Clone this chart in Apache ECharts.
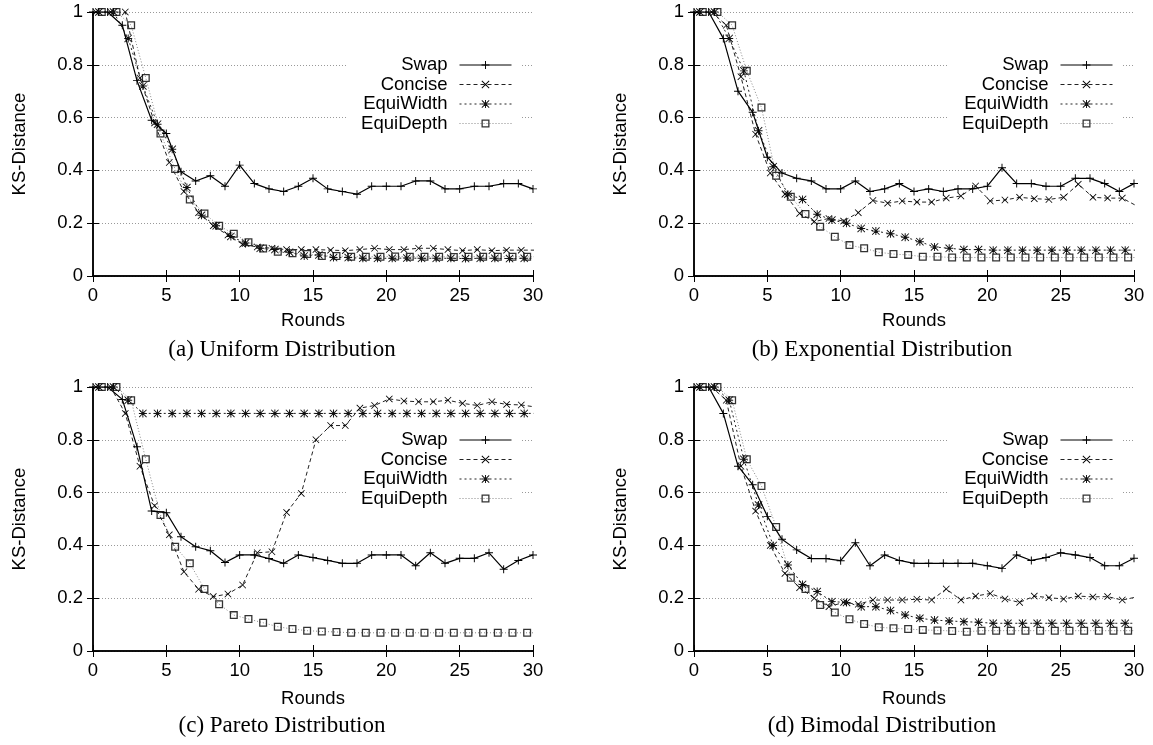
<!DOCTYPE html>
<html>
<head>
<meta charset="UTF-8">
<title>KS-Distance per round</title>
<script type="text/javascript" src="https://cdn.jsdelivr.net/npm/echarts@6.0.0/dist/echarts.min.js"></script>
<style>
html, body { margin: 0; padding: 0; background: #fff; }
#main { width: 1153px; height: 745px; }
</style>
</head>
<body>
<div id="main"></div>
<script type="text/javascript">
// rounds 0..30, each method is plotted slightly shifted to the right
var rounds = [0, 1, 2, 3, 4, 5, 6, 7, 8, 9, 10, 11, 12, 13, 14, 15, 16, 17, 18, 19, 20, 21, 22, 23, 24, 25, 26, 27, 28, 29, 30];
var seriesNames = ['Swap', 'Concise', 'EquiWidth', 'EquiDepth'];
var roundOffsets = [0, 0.2, 0.4, 0.6];
var xTicks = [0, 5, 10, 15, 20, 25, 30];
var yTicks = [0, 0.2, 0.4, 0.6, 0.8, 1];

// (a) uniform
var uniformSwap = [1, 1, 0.95, 0.74, 0.59, 0.54, 0.395, 0.36, 0.38, 0.34, 0.42, 0.35, 0.33, 0.32, 0.34, 0.37, 0.33, 0.32, 0.31, 0.34, 0.34, 0.34, 0.36, 0.36, 0.33, 0.33, 0.34, 0.34, 0.35, 0.35, 0.33];
var uniformConcise = [1, 1, 1, 0.75, 0.58, 0.43, 0.32, 0.24, 0.19, 0.155, 0.12, 0.11, 0.105, 0.1, 0.1, 0.1, 0.098, 0.096, 0.1, 0.105, 0.1, 0.1, 0.105, 0.105, 0.1, 0.096, 0.1, 0.096, 0.098, 0.098, 0.098];
var uniformEquiWidth = [1, 1, 0.9, 0.72, 0.575, 0.48, 0.335, 0.23, 0.19, 0.15, 0.125, 0.105, 0.1, 0.09, 0.076, 0.08, 0.07, 0.07, 0.067, 0.067, 0.067, 0.068, 0.067, 0.067, 0.067, 0.066, 0.067, 0.067, 0.066, 0.067, 0.067];
var uniformEquiDepth = [1, 1, 0.95, 0.75, 0.54, 0.405, 0.29, 0.237, 0.19, 0.16, 0.128, 0.104, 0.092, 0.086, 0.083, 0.076, 0.076, 0.073, 0.073, 0.073, 0.074, 0.073, 0.073, 0.073, 0.072, 0.073, 0.073, 0.073, 0.073, 0.073, 0.073];

// (b) exponential
var expSwap = [1, 1, 0.9, 0.7, 0.62, 0.45, 0.39, 0.37, 0.36, 0.33, 0.33, 0.36, 0.32, 0.33, 0.35, 0.32, 0.33, 0.32, 0.33, 0.33, 0.34, 0.41, 0.35, 0.35, 0.34, 0.34, 0.37, 0.37, 0.35, 0.32, 0.35];
var expConcise = [1, 1, 0.95, 0.755, 0.537, 0.39, 0.31, 0.237, 0.206, 0.218, 0.208, 0.24, 0.286, 0.276, 0.284, 0.28, 0.28, 0.295, 0.303, 0.341, 0.284, 0.288, 0.298, 0.293, 0.29, 0.298, 0.348, 0.298, 0.295, 0.295, 0.265];
var expEquiWidth = [1, 1, 0.9, 0.777, 0.55, 0.414, 0.31, 0.29, 0.234, 0.212, 0.2, 0.18, 0.17, 0.16, 0.147, 0.13, 0.11, 0.105, 0.1, 0.1, 0.098, 0.098, 0.098, 0.098, 0.098, 0.098, 0.098, 0.098, 0.098, 0.098, 0.098];
var expEquiDepth = [1, 1, 0.95, 0.777, 0.638, 0.38, 0.3, 0.235, 0.187, 0.149, 0.117, 0.105, 0.09, 0.083, 0.08, 0.073, 0.073, 0.07, 0.07, 0.07, 0.07, 0.07, 0.07, 0.07, 0.07, 0.07, 0.07, 0.07, 0.07, 0.07, 0.07];

// (c) pareto
var paretoSwap = [1, 1, 0.953, 0.774, 0.53, 0.524, 0.433, 0.395, 0.38, 0.335, 0.364, 0.364, 0.35, 0.332, 0.364, 0.354, 0.343, 0.332, 0.332, 0.364, 0.364, 0.364, 0.323, 0.372, 0.332, 0.351, 0.351, 0.372, 0.31, 0.343, 0.364];
var paretoConcise = [1, 1, 0.9, 0.7, 0.55, 0.44, 0.3, 0.234, 0.206, 0.216, 0.25, 0.372, 0.376, 0.525, 0.597, 0.8, 0.854, 0.854, 0.92, 0.93, 0.955, 0.947, 0.944, 0.944, 0.95, 0.938, 0.93, 0.944, 0.934, 0.932, 0.924];
var paretoEquiWidth = [1, 1, 0.95, 0.9, 0.9, 0.9, 0.9, 0.9, 0.9, 0.9, 0.9, 0.9, 0.9, 0.9, 0.9, 0.9, 0.9, 0.9, 0.9, 0.9, 0.9, 0.9, 0.9, 0.9, 0.9, 0.9, 0.9, 0.9, 0.9, 0.9, 0.9];
var paretoEquiDepth = [1, 1, 0.95, 0.726, 0.515, 0.395, 0.332, 0.235, 0.177, 0.136, 0.121, 0.107, 0.092, 0.083, 0.077, 0.074, 0.072, 0.069, 0.069, 0.069, 0.069, 0.069, 0.069, 0.069, 0.069, 0.069, 0.069, 0.069, 0.069, 0.069, 0.069];

// (d) bimodal
var bimodalSwap = [1, 1, 0.9, 0.7, 0.63, 0.51, 0.423, 0.383, 0.35, 0.35, 0.342, 0.41, 0.323, 0.364, 0.343, 0.332, 0.332, 0.332, 0.332, 0.332, 0.323, 0.313, 0.364, 0.343, 0.354, 0.372, 0.364, 0.354, 0.323, 0.323, 0.351];
var bimodalConcise = [1, 1, 0.95, 0.7, 0.53, 0.4, 0.294, 0.24, 0.2, 0.168, 0.184, 0.177, 0.193, 0.193, 0.193, 0.196, 0.193, 0.235, 0.193, 0.208, 0.218, 0.197, 0.184, 0.208, 0.202, 0.197, 0.208, 0.205, 0.206, 0.193, 0.205];
var bimodalEquiWidth = [1, 1, 0.95, 0.726, 0.553, 0.4, 0.326, 0.252, 0.225, 0.187, 0.184, 0.168, 0.168, 0.153, 0.136, 0.124, 0.117, 0.114, 0.111, 0.109, 0.105, 0.105, 0.105, 0.105, 0.105, 0.105, 0.105, 0.105, 0.105, 0.105, 0.105];
var bimodalEquiDepth = [1, 1, 0.95, 0.726, 0.625, 0.47, 0.277, 0.235, 0.174, 0.146, 0.12, 0.102, 0.09, 0.086, 0.083, 0.08, 0.078, 0.076, 0.073, 0.077, 0.077, 0.077, 0.077, 0.077, 0.077, 0.077, 0.077, 0.077, 0.077, 0.077, 0.077];

var captions = ['(a) Uniform Distribution', '(b) Exponential Distribution', '(c) Pareto Distribution', '(d) Bimodal Distribution'];
var panelValues = [
  [uniformSwap, uniformConcise, uniformEquiWidth, uniformEquiDepth],
  [expSwap, expConcise, expEquiWidth, expEquiDepth],
  [paretoSwap, paretoConcise, paretoEquiWidth, paretoEquiDepth],
  [bimodalSwap, bimodalConcise, bimodalEquiWidth, bimodalEquiDepth]
];

// layout of the four sub plots
var layout = [
  { left: 93, top: 12, legendRight: 631, capX: 282, capY: 350, nameGap: 35 },
  { left: 694, top: 12, legendRight: 30, capX: 882, capY: 350, nameGap: 35 },
  { left: 93, top: 387, legendRight: 631, capX: 282, capY: 726, nameGap: 38 },
  { left: 694, top: 387, legendRight: 30, capX: 882, capY: 726, nameGap: 38 }
];
var plotW = 440, plotH = 264;

var SANS = '"Liberation Sans", Arial, Helvetica, sans-serif';
var SERIF = '"Liberation Serif", "Times New Roman", serif';
var FS = 18.5;

var PLUS = 'path://M4.4,0h1.2v10h-1.2z M0,4.4h10v1.2h-10z';
var CROSS = 'path://M0.8,0L5,4.2L9.2,0L10,0.8L5.8,5L10,9.2L9.2,10L5,5.8L0.8,10L0,9.2L4.2,5L0,0.8z';
var STAR = 'path://M4.4,0h1.2v10h-1.2z M0,4.4h10v1.2h-10z M0.8,0L5,4.2L9.2,0L10,0.8L5.8,5L10,9.2L9.2,10L5,5.8L0.8,10L0,9.2L4.2,5L0,0.8z';
var SQUARE = 'path://M0,0h10v10h-10z M1.6,1.6v6.8h6.8v-6.8z';

var looks = [
  { symbol: PLUS, size: 8, color: '#000', line: { color: '#000', width: 1.2, type: 'solid' } },
  { symbol: CROSS, size: 7, color: '#000', line: { color: '#222', width: 1, type: [4, 3] } },
  { symbol: STAR, size: 8, color: '#111', line: { color: '#222', width: 1, type: [2, 3] } },
  { symbol: SQUARE, size: 8, color: '#333', line: { color: '#888', width: 1, type: [1, 2] } }
];

var grid = [], xAxis = [], yAxis = [], series = [], legend = [], graphic = [];

layout.forEach(function (p, g) {
  grid.push({ left: p.left, top: p.top, width: plotW, height: plotH, containLabel: false });

  var axisLine = { show: true, lineStyle: { color: '#000', width: 1.5 } };
  var tick = { show: true, inside: true, length: 6, lineStyle: { color: '#000', width: 1 } };

  xAxis.push({
    type: 'value', gridIndex: g, position: 'bottom', min: xTicks[0], max: xTicks[xTicks.length - 1], interval: 5,
    name: 'Rounds', nameLocation: 'middle', nameGap: p.nameGap,
    nameTextStyle: { fontFamily: SANS, fontSize: FS, color: '#000' },
    axisLine: axisLine, axisTick: tick, splitLine: { show: false },
    axisLabel: { margin: 10, fontFamily: SANS, fontSize: FS, color: '#000' }
  });
  xAxis.push({
    type: 'value', gridIndex: g, position: 'top', min: xTicks[0], max: xTicks[xTicks.length - 1], interval: 5,
    axisLine: axisLine, axisTick: tick, splitLine: { show: false }, axisLabel: { show: false }
  });
  yAxis.push({
    type: 'value', gridIndex: g, position: 'left', min: yTicks[0], max: yTicks[yTicks.length - 1], interval: 0.2,
    name: 'KS-Distance', nameLocation: 'middle', nameGap: 64,
    nameTextStyle: { fontFamily: SANS, fontSize: FS, color: '#000' },
    axisLine: axisLine, axisTick: tick,
    splitLine: { show: true, lineStyle: { color: '#999', width: 1, type: [1, 2] } },
    axisLabel: { margin: 10, fontFamily: SANS, fontSize: FS, color: '#000' }
  });
  yAxis.push({
    type: 'value', gridIndex: g, position: 'right', min: yTicks[0], max: yTicks[yTicks.length - 1], interval: 0.2,
    axisLine: axisLine, axisTick: tick, splitLine: { show: false }, axisLabel: { show: false }
  });

  panelValues[g].forEach(function (values, s) {
    var look = looks[s];
    series.push({
      name: seriesNames[s],
      type: 'line',
      xAxisIndex: 2 * g,
      yAxisIndex: 2 * g,
      data: values.map(function (v, i) { return [rounds[i] + roundOffsets[s], v]; }),
      symbol: look.symbol,
      symbolSize: look.size,
      showAllSymbol: true,
      itemStyle: { color: look.color },
      lineStyle: look.line,
      clip: true,
      silent: true,
      z: 5 - s
    });
  });

  legend.push({
    data: seriesNames,
    orient: 'vertical',
    align: 'right',
    right: p.legendRight,
    top: p.top + 40.5,
    itemWidth: 52,
    itemHeight: 10,
    itemGap: 0.5,
    padding: [3, 10, 3, 15],
    backgroundColor: '#fff',
    selectedMode: false,
    lineStyle: { width: 1 },
    textStyle: { fontFamily: SANS, fontSize: FS, lineHeight: 19, color: '#000', padding: [0, 7, 0, 0] }
  });

  graphic.push({
    type: 'text', x: p.capX, y: p.capY,
    style: { text: captions[g], align: 'center', verticalAlign: 'middle', font: '23px ' + SERIF, fill: '#000' }
  });
});

var chart = echarts.init(document.getElementById('main'));
chart.setOption({
  animation: false,
  backgroundColor: '#fff',
  grid: grid,
  xAxis: xAxis,
  yAxis: yAxis,
  legend: legend,
  series: series,
  graphic: graphic
});
</script>
</body>
</html>
